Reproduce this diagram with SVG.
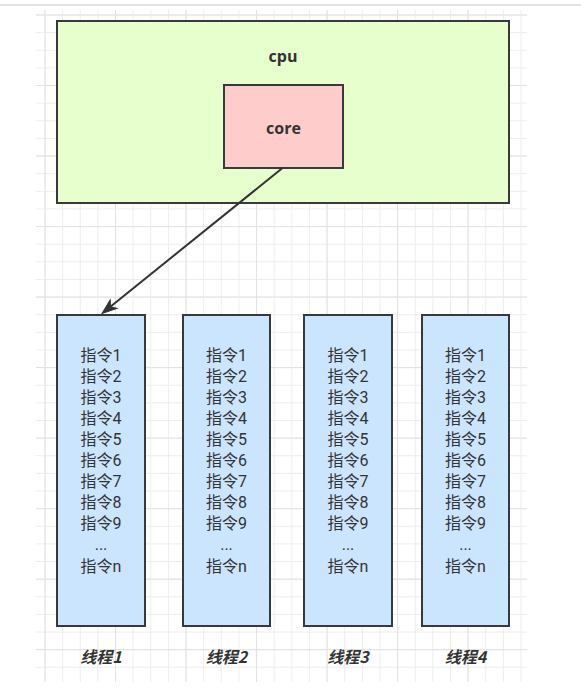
<svg xmlns="http://www.w3.org/2000/svg" width="581" height="699" viewBox="0 0 581 699">
  <defs>
    <pattern id="gMinor" x="44.5" y="14.5" width="17.63" height="17.63" patternUnits="userSpaceOnUse">
      <path d="M0.5 0V17.63M0 0.5H17.63" stroke="#ededed" stroke-width="1" fill="none"/>
    </pattern>
    <pattern id="gMajor" x="44.5" y="14.5" width="70.52" height="70.52" patternUnits="userSpaceOnUse">
      <path d="M0.5 0V70.52M0 0.5H70.52" stroke="#e2e2e2" stroke-width="1" fill="none"/>
    </pattern>
    <marker id="arrow" markerUnits="userSpaceOnUse" markerWidth="30" markerHeight="30" refX="0" refY="0" viewBox="-15 -15 30 30" orient="auto" overflow="visible">
      <path d="M8 0L-7 -5.5L-3 0L-7 5.5Z" fill="#333333" stroke="#333333" stroke-width="1" stroke-linejoin="miter"/>
    </marker>
    <style>
      .box { stroke: #36393d; stroke-width: 2; }
      .cpu { fill: #e6ffcc; }
      .core { fill: #ffcccc; }
      .thread { fill: #cce5ff; }
      .title { font-family: "Open Sans", "Noto Sans", "Liberation Sans", sans-serif; font-weight: bold; font-size: 16px; fill: #333333; text-anchor: middle; }
      .ins { font-family: Roboto, "Noto Sans CJK SC", sans-serif; font-size: 16px; fill: #333333; text-anchor: middle; }
      .lbl { font-family: "Noto Sans CJK SC", sans-serif; font-weight: bold; font-style: italic; font-size: 16px; fill: #333333; text-anchor: middle; }
      .conn { stroke: #333333; stroke-width: 2; fill: none; }
    </style>
  </defs>

  <rect x="0" y="0" width="581" height="699" fill="#ffffff"/>
  <rect x="0" y="4" width="581" height="2" fill="#e3e3e3"/>

  <g id="grid">
    <rect x="36" y="10" width="491" height="672" fill="url(#gMinor)"/>
    <rect x="36" y="10" width="491" height="672" fill="url(#gMajor)"/>
  </g>

  <g id="cpu">
    <rect class="box cpu" x="57" y="21" width="452" height="182"/>
    <text class="title" x="283" y="62">cpu</text>
  </g>

  <g id="core">
    <rect class="box core" x="224" y="85" width="119" height="83"/>
    <text class="title" x="283.5" y="133.5">core</text>
  </g>

  <g id="thread1">
    <rect class="box thread" x="57" y="315" width="88" height="311"/>
    <text class="ins" y="360.5"><tspan x="101">指令1</tspan><tspan x="101" dy="21.1">指令2</tspan><tspan x="101" dy="21.1">指令3</tspan><tspan x="101" dy="21.1">指令4</tspan><tspan x="101" dy="21.1">指令5</tspan><tspan x="101" dy="21.1">指令6</tspan><tspan x="101" dy="21.1">指令7</tspan><tspan x="101" dy="21.1">指令8</tspan><tspan x="101" dy="21.1">指令9</tspan><tspan x="101" dy="21.1">...</tspan><tspan x="101" dy="21.1">指令n</tspan></text>
  </g>

  <g id="thread2">
    <rect class="box thread" x="183" y="315" width="87" height="311"/>
    <text class="ins" y="360.5"><tspan x="226.5">指令1</tspan><tspan x="226.5" dy="21.1">指令2</tspan><tspan x="226.5" dy="21.1">指令3</tspan><tspan x="226.5" dy="21.1">指令4</tspan><tspan x="226.5" dy="21.1">指令5</tspan><tspan x="226.5" dy="21.1">指令6</tspan><tspan x="226.5" dy="21.1">指令7</tspan><tspan x="226.5" dy="21.1">指令8</tspan><tspan x="226.5" dy="21.1">指令9</tspan><tspan x="226.5" dy="21.1">...</tspan><tspan x="226.5" dy="21.1">指令n</tspan></text>
  </g>

  <g id="thread3">
    <rect class="box thread" x="304" y="315" width="88" height="311"/>
    <text class="ins" y="360.5"><tspan x="348">指令1</tspan><tspan x="348" dy="21.1">指令2</tspan><tspan x="348" dy="21.1">指令3</tspan><tspan x="348" dy="21.1">指令4</tspan><tspan x="348" dy="21.1">指令5</tspan><tspan x="348" dy="21.1">指令6</tspan><tspan x="348" dy="21.1">指令7</tspan><tspan x="348" dy="21.1">指令8</tspan><tspan x="348" dy="21.1">指令9</tspan><tspan x="348" dy="21.1">...</tspan><tspan x="348" dy="21.1">指令n</tspan></text>
  </g>

  <g id="thread4">
    <rect class="box thread" x="422" y="315" width="87" height="311"/>
    <text class="ins" y="360.5"><tspan x="465.5">指令1</tspan><tspan x="465.5" dy="21.1">指令2</tspan><tspan x="465.5" dy="21.1">指令3</tspan><tspan x="465.5" dy="21.1">指令4</tspan><tspan x="465.5" dy="21.1">指令5</tspan><tspan x="465.5" dy="21.1">指令6</tspan><tspan x="465.5" dy="21.1">指令7</tspan><tspan x="465.5" dy="21.1">指令8</tspan><tspan x="465.5" dy="21.1">指令9</tspan><tspan x="465.5" dy="21.1">...</tspan><tspan x="465.5" dy="21.1">指令n</tspan></text>
  </g>

  <g id="label1"><text class="lbl" x="101" y="662.5">线程1</text></g>
  <g id="label2"><text class="lbl" x="226.5" y="662.5">线程2</text></g>
  <g id="label3"><text class="lbl" x="348" y="662.5">线程3</text></g>
  <g id="label4"><text class="lbl" x="465.5" y="662.5">线程4</text></g>

  <g id="connectors">
    <line class="conn" x1="282.5" y1="168" x2="108.2" y2="308.5" marker-end="url(#arrow)"/>
  </g>
</svg>
